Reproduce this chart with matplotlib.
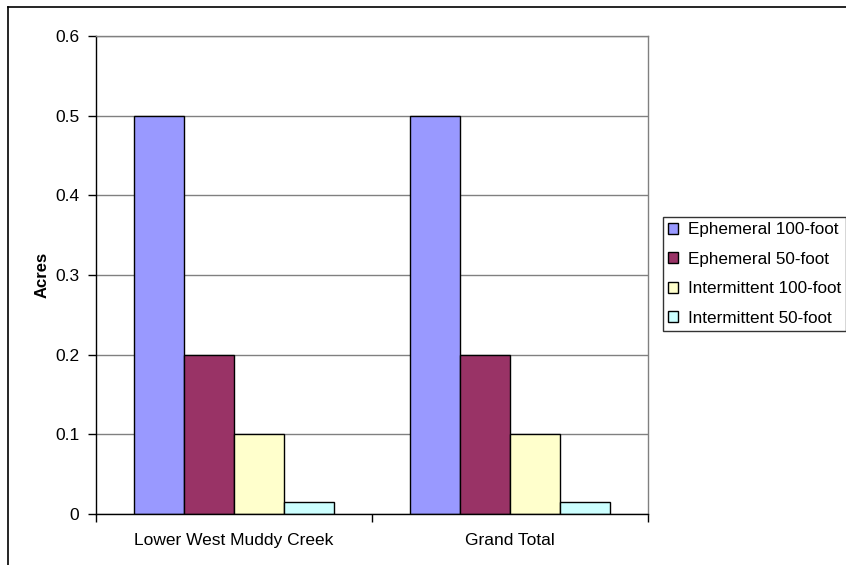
import matplotlib.pyplot as plt
from matplotlib.lines import Line2D
from matplotlib.patches import Patch
import numpy as np

plt.rcParams['font.family'] = ['Liberation Sans', 'DejaVu Sans']

# chart data
categories = ['Lower West Muddy Creek', 'Grand Total']
series_names = ['Ephemeral 100-foot', 'Ephemeral 50-foot',
                'Intermittent 100-foot', 'Intermittent 50-foot']
series_values = [
    [0.5, 0.5],
    [0.2, 0.2],
    [0.1, 0.1],
    [0.015, 0.015],
]
colors = ['#9999FF', '#993366', '#FFFFCC', '#CCFFFF']
y_ticks = [0, 0.1, 0.2, 0.3, 0.4, 0.5, 0.6]

fig = plt.figure(figsize=(8.46, 5.65), dpi=100)
ax = fig.add_axes([96 / 846, 1 - 514 / 565, 552 / 846, 478 / 565])

x = np.arange(len(categories))
width = 50 / 276
for i, (name, vals) in enumerate(zip(series_names, series_values)):
    offs = (i - 1.5) * width
    ax.bar(x + offs, vals, width, color=colors[i], edgecolor='black',
           linewidth=1.0, label=name, zorder=3)

ax.set_xlim(-0.5, len(categories) - 0.5)
ax.set_ylim(0, 0.6)
ax.set_yticks(y_ticks)
ax.set_yticklabels(['0', '0.1', '0.2', '0.3', '0.4', '0.5', '0.6'])
ax.set_xticks(x)
ax.set_xticklabels(categories)
ax.set_xticks(np.arange(len(categories) + 1) - 0.5, minor=True)
ax.tick_params(axis='x', which='major', length=0, pad=14, labelsize=12.5)
ax.tick_params(axis='x', which='minor', length=6, width=1, direction='out')
ax.tick_params(axis='y', length=6, width=1, direction='out', pad=6, labelsize=12.5)

ax.yaxis.grid(True, color='#808080', linewidth=1, zorder=0)
ax.spines['top'].set_color('#808080')
ax.spines['right'].set_color('#808080')
ax.spines['left'].set_color('black')
ax.spines['bottom'].set_color('black')
ax.spines['bottom'].set_zorder(4)
for s in ax.spines.values():
    s.set_linewidth(1)

ax.set_ylabel('Acres', fontsize=12, fontweight='bold', labelpad=4)

handles = [Patch(facecolor=c, edgecolor='black', linewidth=1) for c in colors]
leg = fig.legend(handles, series_names, loc='upper left',
                 bbox_to_anchor=(663 / 846, 1 - 217 / 565),
                 fontsize=12.3, frameon=True, fancybox=False,
                 handlelength=0.6, handleheight=0.6, handletextpad=0.55,
                 labelspacing=0.85, borderpad=0.3, borderaxespad=0)
leg.get_frame().set_edgecolor('black')
leg.get_frame().set_linewidth(1)

# outer chart border (partly cut off in the original)
fig.add_artist(Line2D([8 / 846, 8 / 846], [0, 1 - 7 / 565], color='black', linewidth=1.2))
fig.add_artist(Line2D([8 / 846, 1], [1 - 7 / 565, 1 - 7 / 565], color='black', linewidth=1.2))

plt.savefig('out.png', dpi=100)
